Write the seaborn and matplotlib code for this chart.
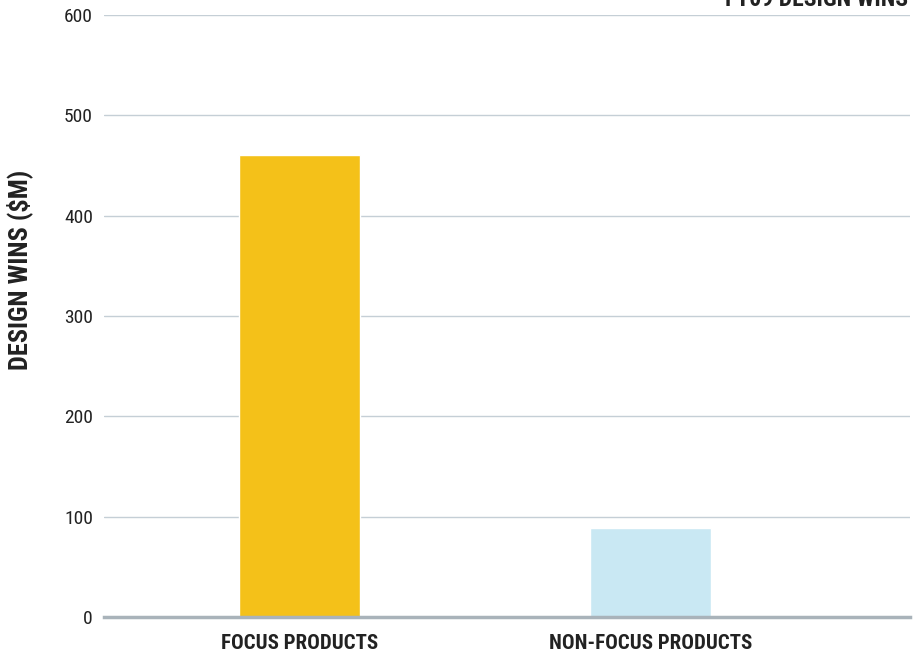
import matplotlib
matplotlib.use("Agg")
import matplotlib.pyplot as plt
import seaborn as sns
import pandas as pd
from matplotlib import font_manager as fm

categories = ["FOCUS PRODUCTS", "NON-FOCUS PRODUCTS"]
values = [460, 89]
colors = ["#f4c119", "#c9e8f3"]
yticks = [0, 100, 200, 300, 400, 500, 600]
title = "FY09 DESIGN WINS"
ylabel = "DESIGN WINS ($M)"

names = {f.name for f in fm.fontManager.ttflist}
fam = [n for n in ["Roboto Condensed", "Liberation Sans Narrow", "Liberation Sans"] if n in names] + ["DejaVu Sans"]

sns.set_theme(style="white")
plt.rcParams["font.family"] = fam

df = pd.DataFrame({"cat": categories, "val": values})

fig = plt.figure(figsize=(9.13, 6.52), dpi=100)
ax = fig.add_axes([104 / 913, 1 - 617 / 652, (910 - 104) / 913, (617 - 15) / 652])

sns.barplot(data=df, x="cat", y="val", hue="cat", palette=colors, width=0.345,
            legend=False, ax=ax, saturation=1, zorder=3)

ax.set_ylim(0, 600)
ax.set_xlim(-0.558, 1.738)
ax.set_yticks(yticks)
ax.set_yticklabels([str(t) for t in yticks], fontsize=14, color="#222222")
ax.tick_params(axis="y", length=0, pad=8)
ax.tick_params(axis="x", length=0, pad=12)
for lbl in ax.get_xticklabels():
    lbl.set_fontsize(15)
    lbl.set_fontweight("bold")
    lbl.set_color("#222222")
ax.set_xlabel("")
ax.set_ylabel(ylabel, fontsize=19, fontweight="bold", color="#222222")
ax.yaxis.set_label_coords((33 - 104) / 806, (617 - 270) / 602)

ax.grid(axis="y", color="#c5cfd6", linewidth=1, zorder=0)
ax.grid(axis="x", visible=False)
for s in ["top", "right", "left"]:
    ax.spines[s].set_visible(False)
ax.spines["bottom"].set_color("#a9b3ba")
ax.spines["bottom"].set_linewidth(2.5)
ax.spines["bottom"].set_zorder(4)

fig.text(908 / 913, 1 - 6 / 652, title, ha="right", va="baseline",
         fontsize=17, fontweight="bold", color="#222222")

fig.savefig("out.png", dpi=100)
